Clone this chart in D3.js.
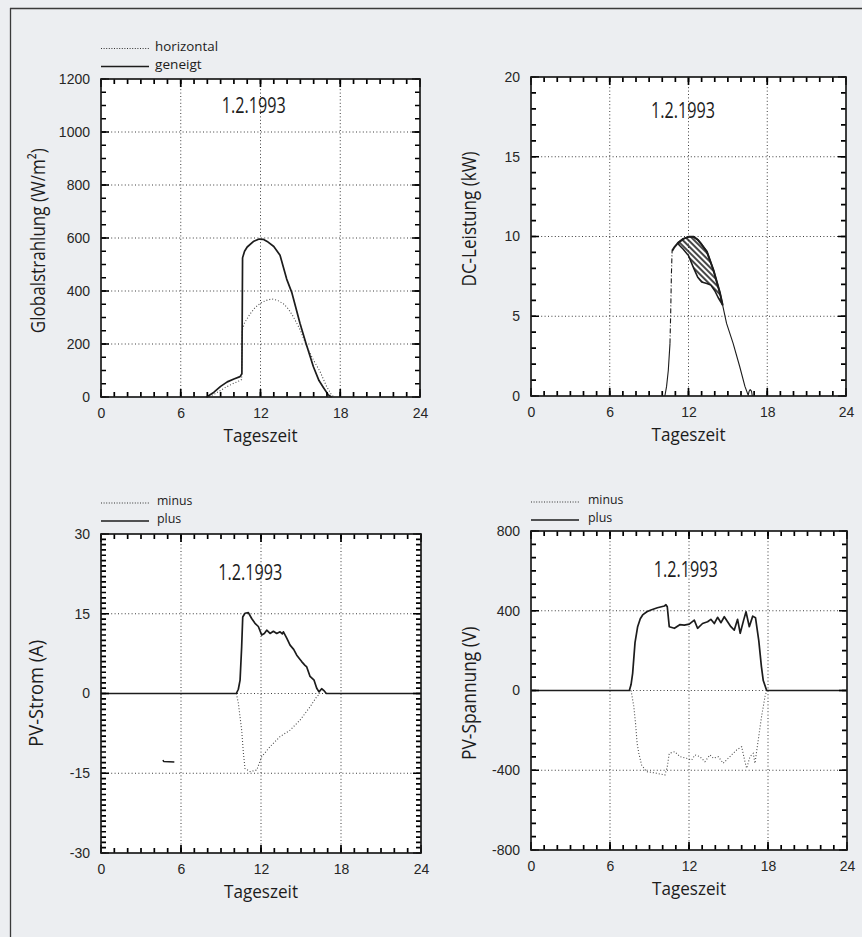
<!DOCTYPE html>
<html>
<head>
<meta charset="utf-8">
<script src="https://cdn.jsdelivr.net/npm/d3@7"></script>
<style>
  html, body { margin: 0; padding: 0; background: #eceef1; }
  svg { display: block; }
</style>
</head>
<body>
<svg id="fig" width="862" height="937"></svg>
<script>
// ---- axis ticks ----------------------------------------------------------
const hourTicks = [0, 6, 12, 18, 24];
const globalTicks = [0, 200, 400, 600, 800, 1000, 1200];
const dcTicks = [0, 5, 10, 15, 20];
const currentTicks = [-30, -15, 0, 15, 30];
const voltageTicks = [-800, -400, 0, 400, 800];

const dateText = "1.2.1993";
const timeTitle = "Tageszeit";

// ---- Globalstrahlung (W/m²), [hour, value] --------------------------------
const irrHorizontal = [
  [7.9, 0], [8.45, 8], [9.0, 25], [9.46, 39], [10.0, 52], [10.46, 62], [10.58, 66],
  [10.62, 250], [10.8, 280], [11.2, 312], [11.6, 338], [12.0, 354], [12.4, 364],
  [12.84, 370], [13.3, 364], [13.72, 352], [14.1, 332], [14.47, 303], [15.0, 252],
  [15.48, 190], [15.98, 140], [16.48, 96], [16.98, 39], [17.3, 12], [17.5, 0]
];
const irrTilted = [
  [7.95, 0], [8.5, 18], [9.0, 40], [9.5, 57], [10.0, 68], [10.46, 77], [10.6, 88],
  [10.65, 525], [10.8, 550], [11.0, 566], [11.5, 588], [11.9, 596], [12.2, 595],
  [12.5, 587], [13.0, 568], [13.47, 535], [13.97, 445], [14.35, 395], [14.97, 278],
  [15.42, 203], [15.98, 114], [16.4, 62], [16.73, 36], [17.1, 8], [17.35, 0]
];

// ---- DC-Leistung (kW) ----------------------------------------------------
const dcRise = [[10.2, 0], [10.33, 0.6], [10.46, 1.6], [10.59, 3.3]];
const dcJump = [[10.59, 3.3], [10.64, 5.1], [10.7, 7.7], [10.75, 9.1]];
const dcPower = [
  [10.75, 9.1], [10.9, 9.3], [11.2, 9.6], [11.6, 9.85], [12.0, 9.98], [12.4, 9.98],
  [12.7, 9.8], [13.0, 9.5], [13.4, 9.05], [13.9, 7.9], [14.4, 6.45], [14.6, 5.7],
  [14.9, 4.55], [15.4, 3.3], [15.9, 1.85], [16.3, 0.6], [16.55, 0.05], [16.62, 0.3],
  [16.7, 0.4], [16.8, 0.3], [16.86, 0]
];
const dcLower = [
  [11.3, 9.45], [11.6, 9.2], [12.0, 8.8], [12.4, 8.0], [12.7, 7.45], [13.0, 7.15],
  [13.4, 7.05], [13.7, 6.95], [14.0, 6.6], [14.3, 6.1], [14.6, 5.7]
];

// ---- PV-Strom (A) --------------------------------------------------------
const currentPlus = [
  [0, 0], [10.15, 0], [10.3, 0.8], [10.43, 2.5], [10.55, 8.8], [10.63, 14.4],
  [10.8, 15.1], [11.05, 15.2], [11.3, 14.1], [11.55, 13.2], [11.8, 12.6], [12.05, 11.0],
  [12.25, 11.3], [12.43, 11.9], [12.68, 11.3], [12.93, 11.7], [13.18, 11.3],
  [13.43, 11.6], [13.6, 11.2], [13.68, 11.6], [13.93, 10.4], [14.18, 9.1], [14.45, 8.3],
  [14.68, 7.2], [15.05, 6.0], [15.3, 5.3], [15.43, 5.0], [15.68, 3.2], [15.98, 2.5],
  [16.18, 1.0], [16.35, 0.3], [16.55, 0.9], [16.7, 0.6], [16.9, 0], [24, 0]
];
const currentMinus = [
  [10.15, 0], [10.3, -1.8], [10.55, -6.9], [10.68, -11.2], [10.8, -14.1], [11.18, -14.7],
  [11.68, -14.4], [12.05, -11.9], [12.68, -10.0], [13.43, -8.1], [14.18, -6.9],
  [14.93, -5.0], [15.68, -2.5], [16.18, -0.6], [16.43, 0]
];
const currentBlip = [[4.65, -12.5], [4.7, -12.8], [5.5, -12.9]];

// ---- PV-Spannung (V) -----------------------------------------------------
const voltagePlus = [
  [0, 0], [7.47, 0], [7.6, 30], [7.72, 86], [7.9, 240], [8.1, 320], [8.3, 360],
  [8.48, 379], [8.8, 395], [9.11, 404], [9.6, 415], [10.13, 424], [10.25, 430],
  [10.35, 420], [10.5, 320], [10.89, 312], [11.3, 330], [11.64, 328], [12.02, 333],
  [12.4, 353], [12.65, 312], [13.03, 336], [13.41, 345], [13.66, 357], [13.92, 336],
  [14.17, 367], [14.43, 340], [14.68, 370], [14.93, 345], [15.18, 320], [15.44, 303],
  [15.69, 357], [15.89, 287], [16.15, 353], [16.33, 395], [16.58, 320], [16.84, 373],
  [17.05, 365], [17.3, 250], [17.5, 120], [17.64, 50], [17.9, 0], [24, 0]
];
const voltageMinus = [
  [7.6, 0], [7.81, -81], [7.94, -165], [8.06, -265], [8.19, -315], [8.4, -374],
  [8.78, -407], [9.54, -415], [10.17, -424], [10.35, -382], [10.5, -315], [10.93, -307],
  [11.31, -332], [11.82, -340], [12.2, -349], [12.45, -323], [12.83, -332], [13.21, -357],
  [13.59, -323], [13.85, -340], [14.23, -332], [14.6, -365], [14.98, -340], [15.36, -315],
  [15.62, -298], [16.0, -282], [16.25, -357], [16.38, -390], [16.63, -332], [16.88, -315],
  [17.01, -365], [17.26, -248], [17.51, -131], [17.77, -31], [17.9, 0]
];

// ---- drawing -------------------------------------------------------------
const svg = d3.select("#fig");
const TEXT_FONT = "'Open Sans', 'Noto Sans', sans-serif";
const NUM_FONT = "'Liberation Sans', Arial, sans-serif";
const INK = "#1c1c1c";

// page frame
svg.append("line").attr("x1", 10).attr("x2", 862).attr("y1", 8.5).attr("y2", 8.5)
  .attr("stroke", "#3a3a3a").attr("stroke-width", 1.3);
svg.append("line").attr("x1", 10.5).attr("x2", 10.5).attr("y1", 8).attr("y2", 937)
  .attr("stroke", "#3a3a3a").attr("stroke-width", 1.3);

// hatch pattern for the shaded power band
const defs = svg.append("defs");
defs.append("pattern")
  .attr("id", "hatch").attr("patternUnits", "userSpaceOnUse")
  .attr("width", 4).attr("height", 4).attr("patternTransform", "rotate(-45)")
  .append("line").attr("x1", 1).attr("x2", 1).attr("y1", 0).attr("y2", 4)
  .attr("stroke", "#1a1a1a").attr("stroke-width", 1.6);

function fmtTick(d) { return d < 0 ? "-" + Math.abs(d) : String(d); }

function drawPanel(cfg) {
  const { left, top, right, bottom } = cfg.box;
  const x = d3.scaleLinear().domain([0, 24]).range([left, right]);
  const y = d3.scaleLinear().domain([cfg.yTicks[0], cfg.yTicks[cfg.yTicks.length - 1]]).range([bottom, top]);
  const g = svg.append("g");

  g.append("rect").attr("x", left).attr("y", top)
    .attr("width", right - left).attr("height", bottom - top).attr("fill", "#ffffff");

  // dotted grid at the labelled ticks
  const grid = g.append("g").attr("stroke", "#3c3c3c").attr("stroke-width", 1)
    .attr("stroke-dasharray", "1,2.4");
  grid.selectAll("line.gx").data(hourTicks.slice(1, -1)).join("line").attr("class", "gx")
    .attr("x1", d => x(d)).attr("x2", d => x(d)).attr("y1", top).attr("y2", bottom);
  grid.selectAll("line.gy").data(cfg.yTicks.slice(1, -1)).join("line").attr("class", "gy")
    .attr("y1", d => y(d)).attr("y2", d => y(d)).attr("x1", left).attr("x2", right);

  const line = d3.line().x(d => x(d[0])).y(d => y(d[1]));
  cfg.series(g, line, x, y);

  // inward ticks on all four sides (minor every hour / every y step, major at labels)
  const [y0, y1] = y.domain();
  const yMinor = d3.range(0, cfg.yMinorCount + 1).map(i => y0 + i * (y1 - y0) / cfg.yMinorCount);
  const xMinor = d3.range(0, 25, 1);
  const tickPath = (xs, ys, len) => {
    let d = "";
    xs.forEach(v => {
      const px = x(v);
      d += `M${px},${bottom}V${bottom - len}M${px},${top}V${top + len}`;
    });
    ys.forEach(v => {
      const py = y(v);
      d += `M${left},${py}H${left + len}M${right},${py}H${right - len}`;
    });
    return d;
  };
  g.append("path").attr("d", tickPath(xMinor, yMinor, 5))
    .attr("fill", "none").attr("stroke", "#000").attr("stroke-width", 1.7);
  g.append("path").attr("d", tickPath(hourTicks, cfg.yTicks, 8))
    .attr("fill", "none").attr("stroke", "#000").attr("stroke-width", 1.7);

  // tick labels
  const xl = g.append("g").attr("transform", `translate(0,${bottom})`)
    .call(d3.axisBottom(x).tickValues(hourTicks).tickSize(0).tickPadding(11).tickFormat(fmtTick));
  const yl = g.append("g").attr("transform", `translate(${left},0)`)
    .call(d3.axisLeft(y).tickValues(cfg.yTicks).tickSize(0).tickPadding(11).tickFormat(fmtTick));
  [xl, yl].forEach(a => {
    a.select(".domain").remove();
    a.attr("font-family", NUM_FONT).attr("font-size", 14).attr("color", "#262626");
  });

  // frame
  g.append("rect").attr("x", left).attr("y", top)
    .attr("width", right - left).attr("height", bottom - top)
    .attr("fill", "none").attr("stroke", INK).attr("stroke-width", 1.7);

  // date
  g.append("text").attr("x", cfg.date[0]).attr("y", cfg.date[1])
    .attr("font-family", TEXT_FONT).attr("font-size", 21).attr("fill", INK)
    .attr("textLength", 64).attr("lengthAdjust", "spacingAndGlyphs").text(dateText);

  // axis titles
  g.append("text").attr("x", (left + right) / 2).attr("y", bottom + 44.5)
    .attr("text-anchor", "middle").attr("font-family", TEXT_FONT).attr("font-size", 18.5)
    .attr("fill", INK).attr("textLength", 74).attr("lengthAdjust", "spacingAndGlyphs")
    .text(timeTitle);
  g.append("text")
    .attr("transform", `translate(${cfg.yTitle.x},${cfg.yTitle.y}) rotate(-90)`)
    .attr("text-anchor", "middle").attr("font-family", TEXT_FONT).attr("font-size", 20)
    .attr("fill", INK).attr("textLength", cfg.yTitle.len).attr("lengthAdjust", "spacingAndGlyphs")
    .text(cfg.yTitle.text);

  // legend
  if (cfg.legend) {
    const L = cfg.legend;
    const lg = g.append("g");
    L.items.forEach((it, i) => {
      const ly = L.y + i * 18;
      lg.append("line").attr("x1", left).attr("x2", left + 48)
        .attr("y1", ly).attr("y2", ly)
        .attr("stroke", it.dotted ? "#333" : INK)
        .attr("stroke-width", it.dotted ? 1.1 : 1.6)
        .attr("stroke-dasharray", it.dotted ? "1,1.6" : null);
      lg.append("text").attr("x", L.textX).attr("y", ly + 2)
        .attr("font-family", TEXT_FONT).attr("font-size", 13.5).attr("fill", INK)
        .attr("textLength", it.len).attr("lengthAdjust", "spacingAndGlyphs")
        .text(it.label);
    });
  }
}

const solid = (g, path, w) => g.append("path").attr("d", path).attr("fill", "none")
  .attr("stroke", INK).attr("stroke-width", w || 1.6).attr("stroke-linejoin", "round");
const dotted = (g, path) => g.append("path").attr("d", path).attr("fill", "none")
  .attr("stroke", "#4a4a4a").attr("stroke-width", 1.1).attr("stroke-dasharray", "1,2");

// Globalstrahlung
drawPanel({
  box: { left: 101, top: 79, right: 420, bottom: 397 },
  yTicks: globalTicks, yMinorCount: 24,
  date: [221.7, 113.3],
  yTitle: { x: 45, y: 240.7, len: 185, text: "Globalstrahlung (W/m²)" },
  legend: { y: 48.5, textX: 155, items: [
    { label: "horizontal", dotted: true, len: 63 },
    { label: "geneigt", dotted: false, len: 46.7 }
  ] },
  series: (g, line) => {
    dotted(g, line(irrHorizontal));
    solid(g, line(irrTilted), 1.7);
  }
});

// DC-Leistung
drawPanel({
  box: { left: 531, top: 77, right: 846, bottom: 396 },
  yTicks: dcTicks, yMinorCount: 20,
  date: [651, 118.3],
  yTitle: { x: 476, y: 219, len: 135, text: "DC-Leistung (kW)" },
  series: (g, line) => {
    const upper = dcPower.filter(d => d[0] >= 11.2 && d[0] <= 14.6);
    const band = upper.concat(dcLower.slice().reverse());
    g.append("path").attr("d", line(band) + "Z").attr("fill", "url(#hatch)")
      .attr("stroke", INK).attr("stroke-width", 1.5).attr("stroke-linejoin", "round");
    solid(g, line(dcRise), 1.1);
    solid(g, line(dcJump), 1.1).attr("stroke-dasharray", "5,2,1,2");
    solid(g, line(dcPower.filter(d => d[0] <= 14.6)), 2);
    solid(g, line(dcPower.filter(d => d[0] >= 14.6)), 1.1);
  }
});

// PV-Strom
drawPanel({
  box: { left: 101, top: 534, right: 421, bottom: 853 },
  yTicks: currentTicks, yMinorCount: 60,
  date: [218.3, 580],
  yTitle: { x: 43, y: 693.3, len: 106.7, text: "PV-Strom (A)" },
  legend: { y: 503, textX: 157, items: [
    { label: "minus", dotted: true, len: 35.3 },
    { label: "plus", dotted: false, len: 24.3 }
  ] },
  series: (g, line) => {
    dotted(g, line(currentMinus));
    solid(g, line(currentPlus), 1.7);
    solid(g, line(currentBlip), 1.5);
  }
});

// PV-Spannung
drawPanel({
  box: { left: 531, top: 531, right: 847, bottom: 850 },
  yTicks: voltageTicks, yMinorCount: 24,
  date: [653.7, 576.7],
  yTitle: { x: 476, y: 693.3, len: 133.3, text: "PV-Spannung (V)" },
  legend: { y: 502, textX: 588, items: [
    { label: "minus", dotted: true, len: 35.3 },
    { label: "plus", dotted: false, len: 24.3 }
  ] },
  series: (g, line) => {
    dotted(g, line(voltageMinus));
    solid(g, line(voltagePlus), 1.7);
  }
});
</script>
</body>
</html>
